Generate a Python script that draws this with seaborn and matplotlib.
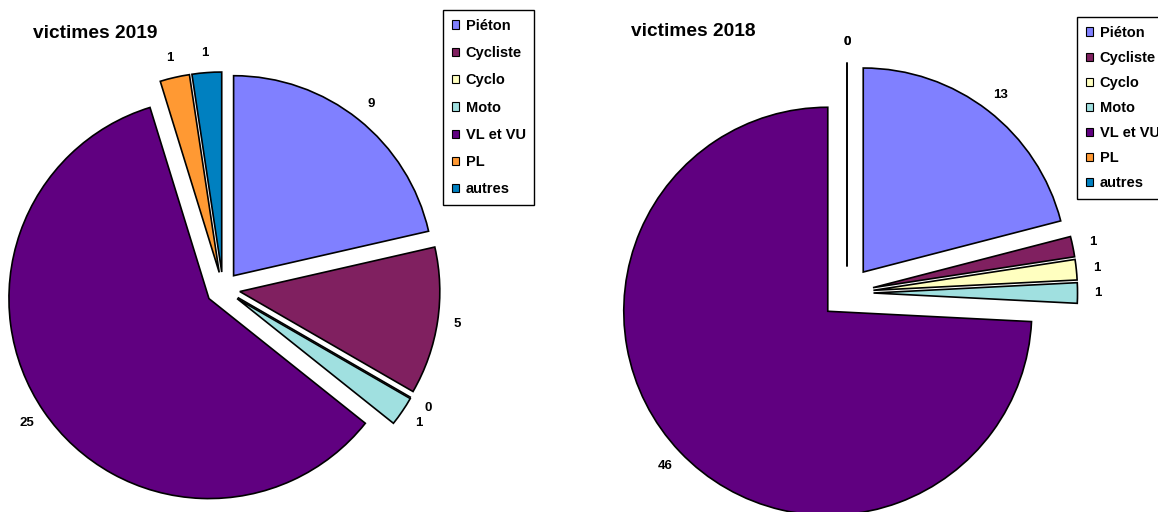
import matplotlib
matplotlib.use("Agg")
import matplotlib.pyplot as plt
from matplotlib.patches import Patch
import seaborn as sns

sns.set_style("white")
plt.rcParams['font.family'] = ['Liberation Sans', 'DejaVu Sans']
plt.rcParams['text.color'] = 'black'

# data
categories = ["Piéton", "Cycliste", "Cyclo", "Moto", "VL et VU", "PL", "autres"]
victimes_2019 = [9, 5, 0, 1, 25, 1, 1]
victimes_2018 = [13, 1, 1, 1, 46, 0, 0]
colors = sns.color_palette(["#8080FF", "#802060", "#FFFFC0", "#A0E0E0",
                            "#600080", "#FF9933", "#0080C0"])

W, H = 1158, 512
fig = plt.figure(figsize=(W / 100, H / 100), dpi=100)


def draw_pie(values, cx, cy, r, expl, labeldist):
    # full-figure axes, scaled so the unit circle has radius r pixels
    ax = fig.add_axes([0, 0, 1, 1])
    ax.patch.set_alpha(0)
    wedges, texts = ax.pie(values, labels=[str(v) for v in values],
                           colors=colors, startangle=90, counterclock=False,
                           explode=[expl] * len(values), labeldistance=labeldist,
                           normalize=True,
                           wedgeprops=dict(edgecolor="black", linewidth=1.2),
                           textprops=dict(fontsize=9.5, fontweight="bold",
                                          color="black"))
    for t in texts:
        t.set_horizontalalignment("center")
    ax.set_xlim(-cx / r, (W - cx) / r)
    ax.set_ylim(-(H - cy) / r, cy / r)
    ax.set_aspect("auto")
    ax.axis("off")
    return ax


draw_pie(victimes_2019, 223, 289, 200, 0.085, 1.1)
draw_pie(victimes_2018, 847, 293, 204, 0.13, 1.1)

fig.text(95 / W, 1 - 33 / H, "victimes 2019", fontsize=13.8, fontweight="bold",
         ha="center", va="center", color="black")
fig.text(693 / W, 1 - 32 / H, "victimes 2018", fontsize=13.8, fontweight="bold",
         ha="center", va="center", color="black")

handles = [Patch(facecolor=c, edgecolor="black", linewidth=0.8) for c in colors]

for (x0, y0, sp) in [(443, 10, 0.91), (1077, 17, 0.76)]:
    leg = fig.legend(handles, categories, loc="upper left",
                     bbox_to_anchor=(x0 / W, 1 - y0 / H), frameon=True,
                     fancybox=False, framealpha=1, edgecolor="black",
                     prop=dict(size=10.5, weight="bold"), handlelength=0.5,
                     handleheight=0.5, handletextpad=0.45, labelspacing=sp,
                     borderaxespad=0, borderpad=0.6)
    leg.get_frame().set_linewidth(1.0)
    for t in leg.get_texts():
        t.set_color("black")

fig.savefig("out.png", dpi=100)
